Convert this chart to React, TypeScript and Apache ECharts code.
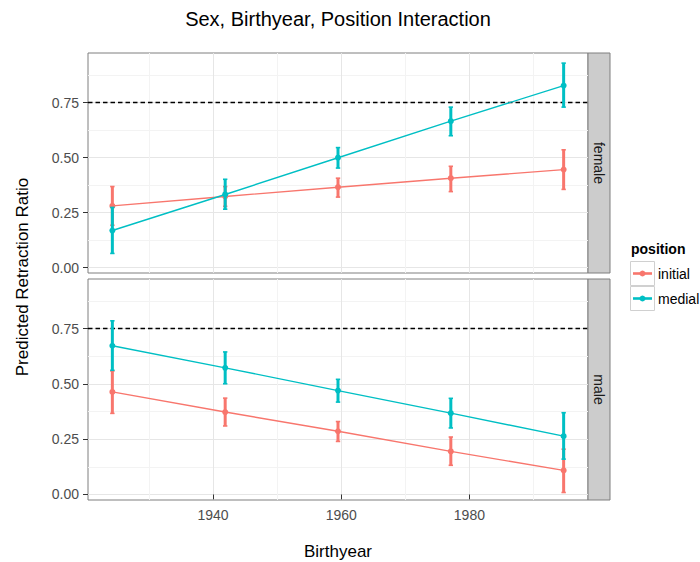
import React, { useEffect, useRef } from "react";
import * as echarts from "echarts";

const birthyears = [1924.3, 1941.9, 1959.5, 1977.1, 1994.7];

const femaleInitialFit = [0.28, 0.323, 0.365, 0.406, 0.445];
const femaleInitialLower = [0.192, 0.278, 0.32, 0.345, 0.355];
const femaleInitialUpper = [0.368, 0.368, 0.406, 0.46, 0.535];

const femaleMedialFit = [0.168, 0.332, 0.499, 0.665, 0.827];
const femaleMedialLower = [0.064, 0.265, 0.452, 0.599, 0.729];
const femaleMedialUpper = [0.273, 0.401, 0.545, 0.729, 0.929];

const maleInitialFit = [0.464, 0.373, 0.286, 0.195, 0.109];
const maleInitialLower = [0.367, 0.31, 0.24, 0.132, 0.009];
const maleInitialUpper = [0.559, 0.436, 0.33, 0.26, 0.205];

const maleMedialFit = [0.673, 0.573, 0.47, 0.368, 0.264];
const maleMedialLower = [0.562, 0.501, 0.418, 0.301, 0.16];
const maleMedialUpper = [0.786, 0.645, 0.521, 0.435, 0.37];

const panels = ["female", "male"];
const positions = ["initial", "medial"];
const yTickValues = [0, 0.25, 0.5, 0.75];
const xTickValues = [1940, 1960, 1980];
const referenceLine = 0.75;

const title = "Sex, Birthyear, Position Interaction";
const xTitle = "Birthyear";
const yTitle = "Predicted Retraction Ratio";
const legendTitle = "position";

const COLORS = ["#F8766D", "#00BFC4"];
const FONT = "Liberation Sans, Arial, Helvetica, sans-serif";

const PLOT_LEFT = 88;
const PLOT_W = 500;
const PANEL_TOPS = [53, 279];
const PANEL_HS = [220, 221];
const STRIP_W = 22;

const X_MIN = 1920.5;
const X_MAX = 1998.5;
const Y_MIN = -0.025;
const Y_MAX = 0.975;

const seriesTable = [
  [
    { fit: femaleInitialFit, lower: femaleInitialLower, upper: femaleInitialUpper },
    { fit: femaleMedialFit, lower: femaleMedialLower, upper: femaleMedialUpper },
  ],
  [
    { fit: maleInitialFit, lower: maleInitialLower, upper: maleInitialUpper },
    { fit: maleMedialFit, lower: maleMedialLower, upper: maleMedialUpper },
  ],
];

const MAJOR = "#e6e6e6";
const MINOR = "#f3f3f3";
const NONE = "rgba(255,255,255,0)";
// x grid ticks every 0.5 from 1920.5: index 19 -> 1930 (minor), 39 -> 1940 (major)
const xSplitColors = Array.from({ length: 40 }, (_, i) =>
  i === 39 ? MAJOR : i === 19 ? MINOR : NONE
);
// y grid ticks every 0.025 from -0.025: index 1 -> 0 (major), 6 -> 0.125 (minor)
const ySplitColors = Array.from({ length: 10 }, (_, i) =>
  i === 1 ? MAJOR : i === 6 ? MINOR : NONE
);

function errorBarRender(params: any, api: any) {
  const x = api.value(0);
  const lo = api.coord([x, api.value(1)]);
  const hi = api.coord([x, api.value(2)]);
  const color = api.visual("color");
  const cap = 2.2;
  return {
    type: "group",
    children: [
      {
        type: "line",
        shape: { x1: lo[0], y1: lo[1], x2: hi[0], y2: hi[1] },
        style: { stroke: color, lineWidth: 3 },
      },
      {
        type: "line",
        shape: { x1: lo[0] - cap, y1: lo[1], x2: lo[0] + cap, y2: lo[1] },
        style: { stroke: color, lineWidth: 1.6 },
      },
      {
        type: "line",
        shape: { x1: hi[0] - cap, y1: hi[1], x2: hi[0] + cap, y2: hi[1] },
        style: { stroke: color, lineWidth: 1.6 },
      },
    ],
  };
}

export default function App() {
  const ref = useRef<HTMLDivElement>(null);
  useEffect(() => {
    if (!ref.current) return;
    const chart = echarts.init(ref.current, undefined, { renderer: "svg" });

    const grid = panels.map((_, p) => ({
      left: PLOT_LEFT,
      top: PANEL_TOPS[p],
      width: PLOT_W,
      height: PANEL_HS[p],
      show: true,
      backgroundColor: "#ffffff",
      borderColor: "#7f7f7f",
      borderWidth: 1,
    }));

    // grid-line x axes (one per panel), used by the series
    const xAxis: any[] = panels.map((_, p) => ({
      type: "value",
      gridIndex: p,
      position: "bottom",
      min: X_MIN,
      max: X_MAX,
      interval: 0.5,
      axisLine: { show: false },
      axisTick: { show: false },
      axisLabel: { show: false },
      splitLine: { show: true, lineStyle: { color: xSplitColors, width: 1 } },
    }));
    // labelled x axis for the bottom panel
    xAxis.push({
      type: "value",
      gridIndex: 1,
      position: "bottom",
      min: X_MIN,
      max: X_MAX,
      interval: 0.5,
      axisLine: { show: false },
      axisTick: {
        show: true,
        customValues: xTickValues,
        length: 5,
        lineStyle: { color: "#333333", width: 1 },
      },
      axisLabel: {
        show: true,
        customValues: xTickValues,
        fontSize: 14,
        color: "#4d4d4d",
        fontFamily: FONT,
        margin: 8,
        formatter: (v: number) => String(Math.round(v)),
      },
      splitLine: { show: false },
    });

    // labelled y axes (used by the series)
    const yAxis: any[] = panels.map((_, p) => ({
      type: "value",
      gridIndex: p,
      position: "left",
      min: Y_MIN,
      max: Y_MAX,
      interval: 0.025,
      axisLine: { show: false },
      axisTick: {
        show: true,
        customValues: yTickValues,
        length: 5,
        lineStyle: { color: "#333333", width: 1 },
      },
      axisLabel: {
        show: true,
        customValues: yTickValues,
        fontSize: 14,
        color: "#4d4d4d",
        fontFamily: FONT,
        margin: 9,
        formatter: (v: number) => v.toFixed(2),
      },
      splitLine: { show: false },
    }));
    // grid-line y axes
    panels.forEach((_, p) => {
      yAxis.push({
        type: "value",
        gridIndex: p,
        position: "left",
        min: Y_MIN,
        max: Y_MAX,
        interval: 0.025,
        axisLine: { show: false },
        axisTick: { show: false },
        axisLabel: { show: false },
        splitLine: { show: true, lineStyle: { color: ySplitColors, width: 1 } },
      });
    });

    const series: any[] = [];
    panels.forEach((_, p) => {
      positions.forEach((pos, k) => {
        const s = seriesTable[p][k];
        series.push({
          type: "line",
          name: pos,
          xAxisIndex: p,
          yAxisIndex: p,
          data: birthyears.map((x, i) => [x, s.fit[i]]),
          symbol: "circle",
          symbolSize: 6,
          showSymbol: true,
          color: COLORS[k],
          itemStyle: { color: COLORS[k] },
          lineStyle: { color: COLORS[k], width: 1.4 },
          z: 3 + k * 2,
          markLine:
            k === 1
              ? {
                  silent: true,
                  symbol: ["none", "none"],
                  label: { show: false },
                  lineStyle: { color: "#000000", type: [4.5, 3], width: 1.3 },
                  data: [{ yAxis: referenceLine }],
                }
              : undefined,
        });
        series.push({
          type: "custom",
          name: pos + " err",
          xAxisIndex: p,
          yAxisIndex: p,
          renderItem: errorBarRender,
          encode: { x: 0, y: [1, 2] },
          data: birthyears.map((x, i) => [x, s.lower[i], s.upper[i]]),
          itemStyle: { color: COLORS[k] },
          z: 4 + k * 2,
        });
      });
    });

    const graphic: any[] = [];
    graphic.push({
      type: "text",
      x: PLOT_LEFT + PLOT_W / 2,
      y: 19,
      style: {
        text: title,
        fontSize: 20,
        fontFamily: FONT,
        fill: "#000000",
        textAlign: "center",
        textVerticalAlign: "middle",
      },
    });
    graphic.push({
      type: "text",
      x: PLOT_LEFT + PLOT_W / 2,
      y: 551,
      style: {
        text: xTitle,
        fontSize: 17,
        fontFamily: FONT,
        fill: "#000000",
        textAlign: "center",
        textVerticalAlign: "middle",
      },
    });
    graphic.push({
      type: "text",
      x: 22,
      y: 277,
      rotation: Math.PI / 2,
      style: {
        text: yTitle,
        fontSize: 17,
        fontFamily: FONT,
        fill: "#000000",
        textAlign: "center",
        textVerticalAlign: "middle",
      },
    });
    panels.forEach((name, p) => {
      graphic.push({
        type: "rect",
        shape: { x: PLOT_LEFT + PLOT_W, y: PANEL_TOPS[p], width: STRIP_W, height: PANEL_HS[p] },
        style: { fill: "#cccccc", stroke: "#7f7f7f", lineWidth: 1 },
      });
      graphic.push({
        type: "text",
        x: PLOT_LEFT + PLOT_W + STRIP_W / 2,
        y: PANEL_TOPS[p] + PANEL_HS[p] / 2,
        rotation: -Math.PI / 2,
        style: {
          text: name,
          fontSize: 14,
          fontFamily: FONT,
          fill: "#1a1a1a",
          textAlign: "center",
          textVerticalAlign: "middle",
        },
      });
    });
    graphic.push({
      type: "text",
      x: 631,
      y: 249,
      style: {
        text: legendTitle,
        fontSize: 14,
        fontWeight: "bold",
        fontFamily: FONT,
        fill: "#000000",
        textAlign: "left",
        textVerticalAlign: "middle",
      },
    });
    positions.forEach((pos, k) => {
      const top = 261 + k * 25;
      graphic.push({
        type: "rect",
        shape: { x: 630.5, y: top + 0.5, width: 24, height: 24 },
        style: { fill: "#ffffff", stroke: "#d0d0d0", lineWidth: 1 },
      });
      graphic.push({
        type: "line",
        shape: { x1: 633, y1: top + 12.5, x2: 652, y2: top + 12.5 },
        style: { stroke: COLORS[k], lineWidth: 2.6 },
      });
      graphic.push({
        type: "circle",
        shape: { cx: 642.5, cy: top + 12.5, r: 3 },
        style: { fill: COLORS[k] },
      });
      graphic.push({
        type: "text",
        x: 658,
        y: top + 12.5,
        style: {
          text: pos,
          fontSize: 14,
          fontFamily: FONT,
          fill: "#000000",
          textAlign: "left",
          textVerticalAlign: "middle",
        },
      });
    });

    chart.setOption({
      animation: false,
      backgroundColor: "#ffffff",
      textStyle: { fontFamily: FONT },
      grid,
      xAxis,
      yAxis,
      series,
      graphic,
    });
    return () => chart.dispose();
  }, []);
  return (
    <div
      ref={ref}
      style={{ position: "absolute", left: 0, top: 0, width: 700, height: 562 }}
    />
  );
}
